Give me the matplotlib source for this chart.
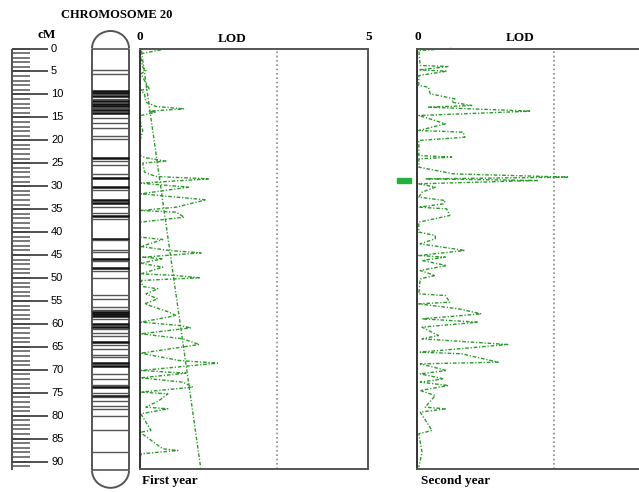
import numpy as np
import matplotlib
matplotlib.use("Agg")
import matplotlib.pyplot as plt
from matplotlib.patches import Arc, Rectangle

Y0 = 48.5      # pixel row of 0 cM
PX = 4.59      # pixels per cM
W, H = 639, 492

# chromosome bands (cM, thick?)
band_cm = [4.6, 5.5, 9.3, 9.8, 10.3, 10.9, 11.4, 12.0, 12.5, 13.0, 13.5, 14.0,
           15.1, 16.3, 17.3, 19.1, 19.7, 23.8, 24.5, 25.3, 27.3, 28.3, 30.2, 30.8,
           33.1, 33.7, 34.6, 35.9, 36.4, 37.1, 41.5, 41.8, 43.9, 44.4, 45.8, 46.2,
           47.9, 48.4, 50.0, 53.8, 54.5, 56.4, 56.9, 57.4, 57.8, 58.2, 58.9, 60.0,
           60.6, 61.2, 62.0, 62.7, 64.0, 64.6, 65.4, 66.7, 67.3, 68.6, 69.1, 70.9,
           72.0, 73.4, 73.8, 75.1, 75.7, 76.0, 76.7, 77.8, 78.6, 80.0, 83.2, 88.0]
band_thick = [0, 0, 1, 1, 1, 0, 1, 1, 1, 0, 1, 1,
              0, 0, 0, 0, 0, 1, 0, 0, 0, 1, 1, 0,
              1, 1, 0, 0, 1, 0, 1, 0, 0, 0, 1, 0,
              1, 0, 0, 0, 0, 0, 0, 1, 1, 1, 0, 1,
              1, 0, 0, 0, 1, 0, 0, 0, 0, 1, 1, 0,
              0, 0, 1, 0, 1, 0, 0, 0, 0, 0, 0, 0]

# first year LOD profile
y1_cm = [0.29, 1.16, 4.07, 4.79, 5.52, 8.79, 9.08, 9.88, 11.69, 12.64, 13.14, 13.65,
         13.87, 14.6, 15.69, 17.86, 20.04, 23.31, 23.82, 24.55, 24.98, 26.94, 27.89,
         28.4, 29.34, 30.21, 30.79, 31.66, 32.97, 34.57, 35.29, 35.66, 36.75, 37.84,
         41.1, 41.61, 43.14, 44.0, 44.52, 45.46, 45.82, 46.77, 47.64, 49.09, 49.46,
         49.96, 50.54, 51.85, 52.36, 53.45, 54.54, 55.63, 57.44, 58.17, 59.62, 60.35,
         60.86, 62.16, 63.25, 64.49, 66.38, 67.97, 68.56, 70.15, 70.73, 71.75, 72.69,
         73.78, 74.87, 75.24, 76.69, 78.14, 78.5, 79.59, 83.22, 83.59, 87.22, 87.58,
         88.31, 91.21]
y1_lod = [0.46, 0.0, 0.06, 0.13, 0.02, 0.2, 0.02, 0.1, 0.13, 0.35, 0.97, 0.2,
          0.35, 0.02, 0.0, 0.06, 0.0, 0.0, 0.13, 0.57, 0.06, 0.1, 0.35,
          1.52, 0.0, 1.08, 0.64, 0.02, 1.45, 0.79, 0.02, 0.79, 0.97, 0.0,
          0.0, 0.5, 0.02, 0.64, 1.34, 0.06, 0.5, 0.02, 0.5, 0.02, 0.79,
          1.3, 0.02, 0.06, 0.39, 0.13, 0.39, 0.1, 0.64, 0.79, 0.02, 0.86,
          1.12, 0.02, 0.94, 1.3, 0.02, 0.86, 1.7, 0.02, 1.01, 0.02, 0.94,
          1.16, 0.02, 0.61, 0.42, 0.13, 0.61, 0.02, 0.24, 0.0, 0.5, 0.83,
          0.02, 0.0]
diag_cm = [0.5, 91.3]
diag_lod = [0.03, 1.33]

# second year LOD profile
y2_cm = [0.0, 0.44, 3.7, 3.92, 4.65, 4.94, 5.88, 8.06, 8.42, 9.88, 10.97, 11.69,
         12.42, 12.78, 13.65, 14.6, 15.69, 16.41, 17.86, 18.23, 19.32, 20.04, 23.31,
         23.68, 24.04, 25.85, 27.31, 28.03, 28.4, 28.76, 29.48, 30.21, 31.3, 32.39,
         33.12, 33.84, 34.57, 34.93, 36.38, 37.84, 40.0, 40.74, 41.46, 42.55, 44.0,
         45.1, 45.46, 46.19, 47.28, 48.37, 49.46, 50.18, 53.45, 53.81, 55.27, 55.63,
         56.72, 57.81, 58.9, 59.62, 60.71, 62.53, 63.25, 64.49, 66.16, 66.52, 68.34,
         68.7, 70.15, 70.88, 71.97, 72.69, 73.42, 74.51, 75.6, 78.14, 78.5, 79.23,
         83.22, 83.95, 87.95, 91.21]
y2_lod = [0.76, 0.04, 0.07, 0.69, 0.04, 0.66, 0.04, 0.04, 0.25, 0.29, 0.83, 0.76,
          1.2, 0.25, 2.5, 0.04, 0.4, 0.62, 0.04, 1.01, 1.05, 0.04, 0.04,
          0.76, 0.04, 0.04, 0.8, 3.33, 0.18, 2.64, 0.04, 0.4, 0.11, 0.04,
          0.62, 0.58, 0.04, 0.65, 0.72, 0.04, 0.04, 0.4, 0.4, 0.07, 1.05,
          0.04, 0.62, 0.11, 0.65, 0.07, 0.4, 0.07, 0.04, 0.62, 0.72, 0.04,
          0.91, 1.41, 0.11, 1.34, 0.11, 0.47, 0.11, 1.99, 0.07, 0.98, 1.78,
          0.07, 0.65, 0.07, 0.58, 0.07, 0.69, 0.07, 0.4, 0.18, 0.62, 0.07,
          0.33, 0.04, 0.11, 0.04]

THRESH = 3.0
qtl_cm = (28.3, 29.4)

GREEN = '#2a9a2a'
DASH = (0, (2.6, 1.3, 0.9, 1.3))
SERIF = 'Liberation Serif'
SANS = 'Liberation Sans'


def cm(y):
    return (y - Y0) / PX


fig = plt.figure(figsize=(W / 100, H / 100), dpi=100)

# background axes: x in pixels, y in cM
ax0 = fig.add_axes([0, 0, 1, 1])
ax0.set_xlim(0, W)
ax0.set_ylim(cm(H), cm(0))
ax0.axis('off')

# ruler
ax0.vlines(12, 0, 91.9, color='#444444', lw=1.3)
ax0.hlines(np.arange(0, 92), 12, 30, color='#555555', lw=1.1)
ax0.hlines(np.arange(0, 91, 5), 12, 48, color='#444444', lw=1.3)
for v in range(0, 91, 5):
    ax0.text(51, v, str(v), fontsize=8, family=SANS, va='center', ha='left')
ax0.text(47, cm(35), 'cM', fontsize=9.5, family=SERIF, weight='bold', ha='center', va='center')

# chromosome
cx, cw = 110.5, 37
ax0.vlines([92, 129], 0, 91.9, color='#555555', lw=1.4)
ax0.hlines([0, 91.9], 92, 129, color='#555555', lw=1.2)
ax0.add_patch(Arc((cx, 0), cw, 2 * 17.5 / PX, theta1=180, theta2=360, color='#555555', lw=1.4))
ax0.add_patch(Arc((cx, 91.9), cw, 2 * 17.5 / PX, theta1=0, theta2=180, color='#555555', lw=1.4))
for c, t in zip(band_cm, band_thick):
    ax0.hlines(c, 92, 129, color='#111111' if t else '#555555', lw=1.8 if t else 1.0)

ax0.text(117, cm(15), 'CHROMOSOME 20', fontsize=9, family=SERIF, weight='bold', ha='center', va='center')

# LOD panels
bottom = 1 - 469 / H
height = (469 - Y0) / H
ylim = (cm(469), 0)


def lod_panel(left_px, right_px, xmax, right_spine):
    ax = fig.add_axes([left_px / W, bottom, (right_px - left_px) / W, height])
    ax.set_xlim(0, xmax)
    ax.set_ylim(*ylim)
    ax.set_xticks([])
    ax.set_yticks([])
    ax.patch.set_alpha(0)
    for s in ['top', 'bottom', 'left', 'right']:
        ax.spines[s].set_color('#555555')
        ax.spines[s].set_linewidth(1.4)
    ax.spines['left'].set_color('#333333')
    ax.spines['right'].set_visible(right_spine)
    ax.axvline(THRESH, color='#888888', lw=1.2, ls=(0, (1, 1.6)))
    return ax


ax1 = lod_panel(140, 368, 5, True)
ax1.plot(y1_lod, y1_cm, color=GREEN, lw=1.0, ls=DASH, clip_on=False)
ax1.plot(diag_lod, diag_cm, color=GREEN, lw=1.0, ls=DASH, clip_on=False)

ax2 = lod_panel(417, 639, (639 - 417) / 45.6, False)
ax2.plot(y2_lod, y2_cm, color=GREEN, lw=1.0, ls=DASH, clip_on=False)
ax2.add_patch(Rectangle((-0.44, qtl_cm[0]), 0.31, qtl_cm[1] - qtl_cm[0],
                        color='#22b43a', clip_on=False))

# panel text
for x, s in [(140, '0'), (369, '5'), (418, '0')]:
    ax0.text(x, cm(37), s, fontsize=9.5, family=SERIF, weight='bold', ha='center', va='center')
ax0.text(232, cm(39), 'LOD', fontsize=9.5, family=SERIF, weight='bold', ha='center', va='center')
ax0.text(520, cm(38), 'LOD', fontsize=9.5, family=SERIF, weight='bold', ha='center', va='center')
ax0.text(142, cm(481), 'First year', fontsize=9.5, family=SERIF, weight='bold', ha='left', va='center')
ax0.text(421, cm(481), 'Second year', fontsize=9.5, family=SERIF, weight='bold', ha='left', va='center')

fig.savefig('out.png', dpi=100)
